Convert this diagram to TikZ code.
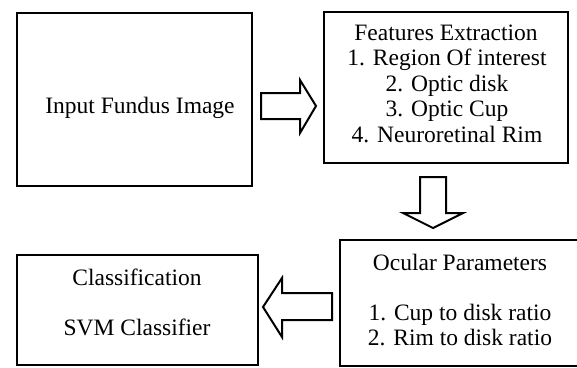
\documentclass[tikz,border=0pt]{standalone}
\usepackage{fontspec}
\setmainfont{Liberation Serif}
\usetikzlibrary{calc}
\begin{document}
\begin{tikzpicture}[x=1pt,y=-1pt,
  boxst/.style={draw=black,line width=2.6pt,rectangle,inner sep=0pt},
  txt/.style={anchor=base,inner sep=0pt,font=\fontsize{23.5}{25}\selectfont},
  blk/.style={draw=black,line width=2pt,fill=white,line join=miter}]
\useasboundingbox (0,0) rectangle (577,367);
\clip (0,0) rectangle (577,367);
% boxes
\node[boxst,minimum width=235,minimum height=173] (in) at (134.5,99.5) {};
\node[boxst,minimum width=244,minimum height=151] (fe) at (446,87.5) {};
\node[boxst,minimum width=244,minimum height=126] (op) at (462,303) {};
\node[boxst,minimum width=241,minimum height=110] (cl) at (137.5,310) {};
% texts
\node[txt] (t1) at (140,113.5) {Input Fundus Image};
\node[txt] (f1) at (446,40.5) {Features Extraction};
\node[txt] (f2) at (447,65.5) {1. Region Of interest};
\node[txt] (f3) at (447,91) {2. Optic disk};
\node[txt] (f4) at (447,116.5) {3. Optic Cup};
\node[txt] (f5) at (447,142) {4. Neuroretinal Rim};
\node[txt] (o1) at (460,270.5) {Ocular Parameters};
\node[txt] (o2) at (460,320.5) {1. Cup to disk ratio};
\node[txt] (o3) at (460,345.5) {2. Rim to disk ratio};
\node[txt] (c1) at (137,285.5) {Classification};
\node[txt] (c2) at (137,335.5) {SVM Classifier};
% block arrows
\draw[blk] (261,93) -- (300,93) -- (300,80) -- (316,106) -- (300,133) -- (300,119) -- (261,119) -- cycle;
\draw[blk] (420,177) -- (446,177) -- (446,213) -- (463,213) -- (433,228) -- (403,213) -- (420,213) -- cycle;
\draw[blk] (332,293) -- (282,293) -- (282,278) -- (263,307) -- (282,337) -- (282,320) -- (332,320) -- cycle;
\end{tikzpicture}
\end{document}
